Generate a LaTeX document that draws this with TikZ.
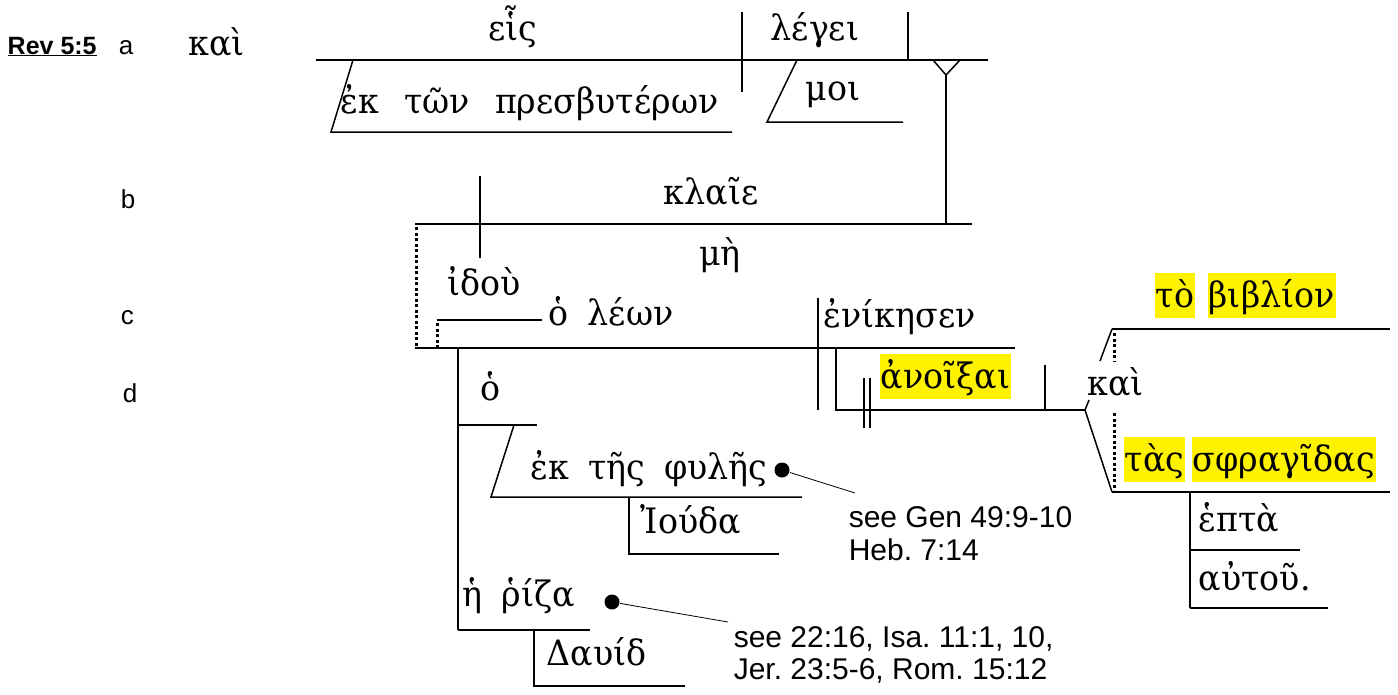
\documentclass[tikz,border=0pt]{standalone}
\usepackage{fontspec}
\setmainfont{DejaVu Serif}
\newfontfamily\gkfont[FakeStretch=0.95,WordSpace=1.8]{DejaVu Serif}
\newfontfamily\labfont{Liberation Sans}
\frenchspacing
\begin{document}
\begin{tikzpicture}[x=1pt,y=-1pt,line width=1.5pt,
  gk/.style={font=\gkfont\fontsize{35}{40}\selectfont, inner sep=0pt, anchor=base west},
  hl/.style={gk, fill=yellow, inner xsep=1pt, inner ysep=2pt, text height=32pt, text depth=9pt},
  lab/.style={font=\labfont\fontsize{26}{30}\selectfont, inner sep=0pt, anchor=base west},
  note/.style={font=\labfont\fontsize{30}{34}\selectfont, inner sep=0pt, anchor=base west},
  dl/.style={line width=3pt, dash pattern=on 3pt off 2.5pt},
  dotnode/.style={circle, fill=black, inner sep=0pt, minimum size=15pt},
  lead/.style={line width=0.8pt}]
\useasboundingbox (0,0) rectangle (1398,694);
% labels
\node[lab, font=\labfont\bfseries\fontsize{25}{30}\selectfont] (rev) at (7,54) {\underline{Rev 5:5}};
\node[lab] (la) at (118,54) {a};
\node[lab] (lb) at (120,208) {b};
\node[lab] (lc) at (120,324) {c};
\node[lab] (ld) at (122,402) {d};
% row a
\node[gk] (kai1) at (188,55) {καὶ};
\draw (316,60) -- (988,60);
\draw (742,12) -- (742,92);
\draw (908,12) -- (908,60);
\draw (933,60) -- (946,75) -- (960,60);
\draw (946,75) -- (946,224);
\node[gk, anchor=base] (heis) at (513,40) {εἷς};
\node[gk] (legei) at (770,40) {λέγει};
\draw (353,60) -- (331,132) -- (732,132);
\node[gk] (ektwn) at (340,113) {ἐκ\hspace{6pt} τῶν\hspace{6pt} πρεσβυτέρων};
\draw (797,60) -- (767,122) -- (903,122);
\node[gk] (moi) at (805,100) {μοι};
% row b
\draw (415,224) -- (972,224);
\draw (480,176) -- (480,258);
\node[gk, anchor=base] (klaie) at (711,204) {κλαῖε};
\node[gk, anchor=base] (mh) at (720,265) {μὴ};
\draw[dl] (416,227) -- (416,347);
\node[gk] (idou) at (447,295) {ἰδοὺ};
% row c
\draw (437,320) -- (542,320);
\draw[dl] (437,323) -- (437,347);
\node[gk] (olewn) at (548,325) {ὁ λέων};
\draw (415,348) -- (1015,348);
\draw (818,298) -- (818,410);
\node[gk] (enik) at (823,327) {ἐνίκησεν};
\draw (836,348) -- (836,410) -- (1085,410);
\draw[line width=1.2pt] (864,378) -- (864,428) (870,378) -- (870,428);
\node[hl] (anoix) at (879,388) {ἀνοῖξαι};
\draw (1045,365) -- (1045,410);
\draw (1085,410) -- (1112,492);
\draw (1085,410) -- (1089,400);
\draw (1100,361) -- (1112,329);
\draw (1112,329) -- (1390,329);
\draw (1112,492) -- (1390,492);
\draw[dl] (1114,333) -- (1114,361);
\draw[dl] (1114,413) -- (1114,490);
\node[gk] (kai2) at (1087,395) {καὶ};
\node[hl] (to) at (1154,307) {τὸ};
\node[hl] (biblion) at (1207,307) {βιβλίον};
\node[hl] (tas) at (1123,471) {τὰς};
\node[hl] (sfrag) at (1191,471) {σφραγῖδας};
\draw (1190,492) -- (1190,608);
\draw (1190,550) -- (1300,550);
\draw (1190,608) -- (1328,608);
\node[gk] (hepta) at (1198,531) {ἑπτὰ};
\node[gk] (autou) at (1198,590) {αὐτοῦ.};
% subject modifiers
\draw (458,348) -- (458,630);
\draw (458,425) -- (537,425);
\node[gk] (ho) at (480,400) {ὁ};
\draw (514,425) -- (491,497) -- (802,497);
\node[gk] (ekths) at (530,479) {ἐκ τῆς φυλῆς};
\node[dotnode] (b1) at (782,470) {};
\coordinate (n1) at (855,493);
\draw[lead] (b1) -- (n1);
\draw (629,497) -- (629,554) -- (779,554);
\node[gk] (iouda) at (640,533) {Ἰούδα};
\node[gk] (rhiza) at (462,606) {ἡ ῥίζα};
\node[dotnode] (b2) at (612,602) {};
\coordinate (n2) at (728,622);
\draw[lead] (b2) -- (n2);
\draw (458,630) -- (590,630);
\draw (534,630) -- (534,686) -- (685,686);
\node[gk] (dauid) at (546,665) {Δαυίδ};
% notes
\node[note] (note1a) at (848,527) {see Gen 49:9-10};
\node[note] (note1b) at (848,560) {Heb. 7:14};
\node[note] (note2a) at (733,647) {see 22:16, Isa. 11:1, 10,};
\node[note] (note2b) at (733,679) {Jer. 23:5-6, Rom. 15:12};
\end{tikzpicture}
\end{document}
